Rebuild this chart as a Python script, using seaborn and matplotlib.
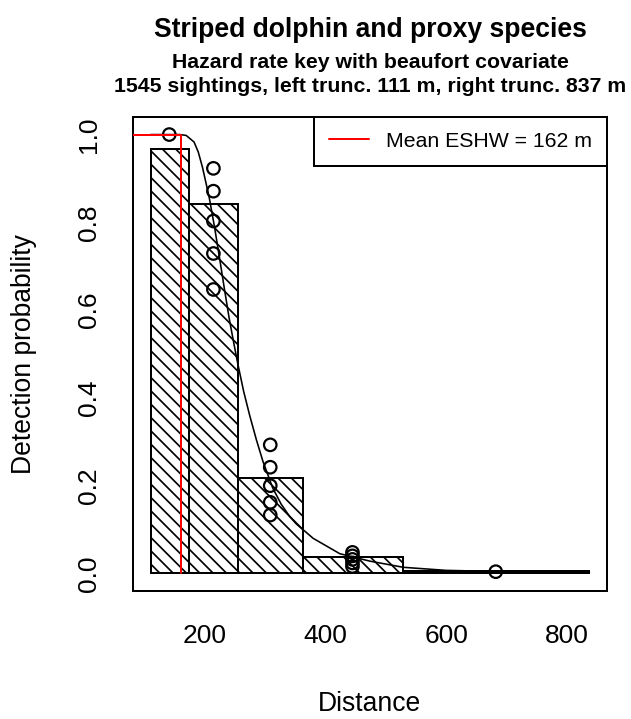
import matplotlib
matplotlib.use("Agg")
import matplotlib.pyplot as plt
from matplotlib.lines import Line2D
import seaborn as sns

# histogram of scaled detections (bin edges in m, bar heights)
bin_edges = [111, 175, 255, 363, 528, 837]
bar_heights = [0.967, 0.842, 0.218, 0.037, 0.005]

# fitted detection function
curve_x = [111, 160, 170, 183, 190, 197, 208, 217, 225, 233, 241, 248, 255,
           265, 275, 286, 297, 313, 327, 341, 352, 380, 424, 474, 529, 600,
           700, 837]
curve_y = [1.0, 1.0, 0.998, 0.983, 0.96, 0.925, 0.857, 0.788, 0.72, 0.65,
           0.582, 0.53, 0.48, 0.415, 0.36, 0.305, 0.255, 0.195, 0.158, 0.13,
           0.113, 0.08, 0.045, 0.028, 0.014, 0.007, 0.004, 0.002]

# per-sighting detection probabilities at bin midpoints
obs_x = [142, 215, 215, 215, 215, 215, 309, 309, 309, 309, 309,
         445, 445, 445, 445, 445, 682]
obs_y = [1.0, 0.923, 0.871, 0.803, 0.729, 0.647, 0.293, 0.242, 0.200,
         0.162, 0.133, 0.048, 0.040, 0.032, 0.024, 0.016, 0.004]

eshw = 162
x_ticks = [200, 400, 600, 800]
y_ticks = [0.0, 0.2, 0.4, 0.6, 0.8, 1.0]

W, H, DPI = 631, 719, 80
PT = 72 / DPI  # pixels -> points

sns.set_style("white")
plt.rcParams["font.family"] = ["Liberation Sans", "DejaVu Sans"]
plt.rcParams["text.color"] = "black"
plt.rcParams["axes.labelcolor"] = "black"
plt.rcParams["hatch.linewidth"] = 1.7 * PT

fig = plt.figure(figsize=(W / DPI, H / DPI), dpi=DPI)
ax = fig.add_axes([133 / W, 1 - 591 / H, 474 / W, 474 / H])

lefts = bin_edges[:-1]
widths = [b - a for a, b in zip(bin_edges[:-1], bin_edges[1:])]
ax.bar(lefts, bar_heights, width=widths, align="edge", fill=False,
       hatch="\\\\", edgecolor="black", linewidth=2 * PT, zorder=1)

sns.lineplot(x=curve_x, y=curve_y, color="black", linewidth=1.6 * PT,
             sort=False, estimator=None, ax=ax, zorder=2)
ax.scatter(obs_x, obs_y, s=(12.5 * PT) ** 2, facecolors="none",
           edgecolors="black", linewidths=2.2 * PT, zorder=3)

ax.plot([82, eshw, eshw], [1, 1, 0], color="red", linewidth=2 * PT, zorder=4)

ax.set_xlim(82, 866)
ax.set_ylim(-0.04, 1.04)
ax.set_xticks(x_ticks)
ax.set_xticklabels([str(t) for t in x_ticks])
ax.set_yticks(y_ticks)
ax.set_yticklabels([f"{t:.1f}" for t in y_ticks], rotation=90, va="center")
ax.tick_params(direction="out", length=16 * PT, width=2 * PT,
               labelsize=26.4 * PT, color="black", labelcolor="black")
ax.tick_params(axis="x", pad=17 * PT)
ax.tick_params(axis="y", pad=16 * PT)
for sp in ax.spines.values():
    sp.set_visible(True)
    sp.set_color("black")
    sp.set_linewidth(2 * PT)

handle = Line2D([], [], color="red", linewidth=2 * PT)
leg = ax.legend([handle], ["Mean ESHW = 162 m"], loc="upper right",
                borderaxespad=0, fancybox=False, edgecolor="black",
                framealpha=1, fontsize=21.2 * PT, handlelength=1.9,
                handletextpad=0.8, borderpad=0.7)
leg.get_frame().set_linewidth(2 * PT)
for t in leg.get_texts():
    t.set_color("black")

fig.text(370 / W, 1 - 30 / H, "Striped dolphin and proxy species",
         ha="center", va="center", fontsize=26.5 * PT, fontweight="bold")
fig.text(370 / W, 1 - 62 / H, "Hazard rate key with beaufort covariate",
         ha="center", va="center", fontsize=21.2 * PT, fontweight="bold")
fig.text(370 / W, 1 - 86 / H,
         "1545 sightings, left trunc. 111 m, right trunc. 837 m",
         ha="center", va="center", fontsize=21.2 * PT, fontweight="bold")
fig.text(370 / W, 1 - 711 / H, "Distance", ha="center", va="baseline",
         fontsize=26.5 * PT)
fig.text(24 / W, 1 - 354 / H, "Detection probability", ha="center",
         va="center", rotation=90, fontsize=26.5 * PT)

fig.savefig("out.png", dpi=DPI)
